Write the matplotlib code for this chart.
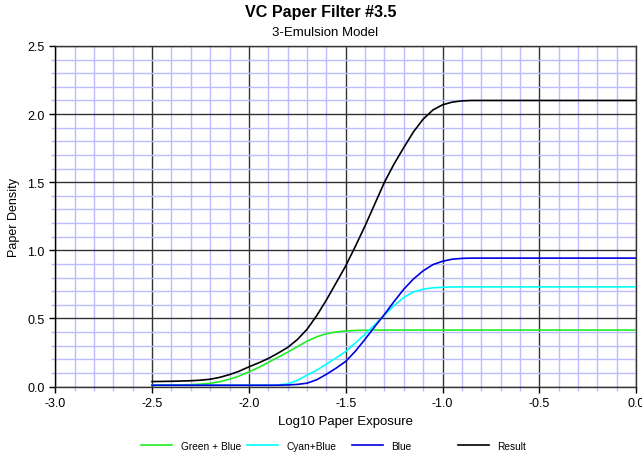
import matplotlib
matplotlib.use('Agg')
import matplotlib.pyplot as plt
from matplotlib.ticker import MultipleLocator
from matplotlib.lines import Line2D

plt.rcParams['font.family'] = ['Liberation Sans', 'DejaVu Sans']

# log10 exposure
logE = [-2.5, -2.45, -2.4, -2.35, -2.3, -2.25, -2.2, -2.15, -2.1, -2.05,
        -2.0, -1.95, -1.9, -1.85, -1.8, -1.75, -1.7, -1.65, -1.6, -1.55,
        -1.5, -1.45, -1.4, -1.35, -1.3, -1.25, -1.2, -1.15, -1.1, -1.05,
        -1.0, -0.95, -0.9, -0.85, -0.8, -0.7, -0.6, -0.5, -0.4, -0.3,
        -0.2, -0.1, 0.0]

green_blue = [0.010, 0.010, 0.011, 0.012, 0.014, 0.018, 0.024, 0.036, 0.054, 0.078,
              0.108, 0.140, 0.177, 0.215, 0.252, 0.293, 0.333, 0.365, 0.388, 0.401,
              0.408, 0.412, 0.414, 0.415, 0.415, 0.415, 0.415, 0.415, 0.415, 0.415,
              0.415, 0.415, 0.415, 0.415, 0.415, 0.415, 0.415, 0.415, 0.415, 0.415,
              0.415, 0.415, 0.415]

cyan_blue = [0.010, 0.010, 0.010, 0.010, 0.010, 0.010, 0.010, 0.010, 0.010, 0.010,
             0.010, 0.010, 0.010, 0.012, 0.020, 0.045, 0.084, 0.120, 0.165, 0.210,
             0.258, 0.320, 0.385, 0.455, 0.525, 0.595, 0.655, 0.695, 0.715, 0.725,
             0.729, 0.731, 0.732, 0.732, 0.732, 0.732, 0.732, 0.732, 0.732, 0.732,
             0.732, 0.732, 0.732]

blue = [0.010, 0.010, 0.010, 0.010, 0.010, 0.010, 0.010, 0.010, 0.010, 0.010,
        0.010, 0.010, 0.010, 0.010, 0.012, 0.016, 0.025, 0.050, 0.090, 0.135,
        0.185, 0.260, 0.348, 0.440, 0.530, 0.625, 0.715, 0.790, 0.850, 0.895,
        0.920, 0.935, 0.941, 0.943, 0.943, 0.943, 0.943, 0.943, 0.943, 0.943,
        0.943, 0.943, 0.943]

result = [0.037, 0.038, 0.039, 0.041, 0.043, 0.047, 0.054, 0.068, 0.088, 0.113,
          0.145, 0.174, 0.206, 0.245, 0.287, 0.345, 0.420, 0.520, 0.635, 0.760,
          0.886, 1.030, 1.180, 1.340, 1.500, 1.635, 1.755, 1.870, 1.963, 2.030,
          2.068, 2.088, 2.097, 2.100, 2.100, 2.100, 2.100, 2.100, 2.100, 2.100,
          2.100, 2.100, 2.100]

series = [('Green + Blue', green_blue, '#22ee22'),
          ('Cyan+Blue', cyan_blue, '#00ffff'),
          ('Blue', blue, '#0000dd'),
          ('Result', result, '#000000')]

fig = plt.figure(figsize=(6.42, 4.56), dpi=100)
ax = fig.add_axes([0.086, 0.150, 0.905, 0.747])

for name, vals, col in series:
    ax.plot(logE, vals, color=col, linewidth=1.2, zorder=3)

ax.set_xlim(-3.0, 0.0)
ax.set_ylim(0.0, 2.5)
ax.xaxis.set_major_locator(MultipleLocator(0.5))
ax.yaxis.set_major_locator(MultipleLocator(0.5))
ax.xaxis.set_minor_locator(MultipleLocator(0.1))
ax.yaxis.set_minor_locator(MultipleLocator(0.1))
ax.xaxis.set_major_formatter(plt.FormatStrFormatter('%.1f'))
ax.yaxis.set_major_formatter(plt.FormatStrFormatter('%.1f'))

ax.grid(True, which='minor', color='#bcbcff', linewidth=1.0, zorder=0)
ax.grid(True, which='major', color='#333333', linewidth=1.0, zorder=1)
ax.set_axisbelow(True)
ax.tick_params(which='major', direction='out', length=4, width=1, color='black', labelsize=9)
ax.tick_params(which='minor', direction='out', length=3, width=1, color='#bcbcff')
for s in ax.spines.values():
    s.set_color('#333333')
    s.set_linewidth(1.0)
ax.spines['left'].set_color('black')

ax.set_xlabel('Log10 Paper Exposure', fontsize=9.5, labelpad=4)
ax.set_ylabel('Paper Density', fontsize=9, labelpad=5)

fig.text(0.5, 0.972, 'VC Paper Filter #3.5', ha='center', va='center',
         fontsize=11.6, fontweight='bold')
fig.text(0.506, 0.928, '3-Emulsion Model', ha='center', va='center', fontsize=9.5)

# legend, one column per entry, evenly spaced
x0 = [0.2196, 0.3847, 0.5483, 0.7134]
for (name, vals, col), xs in zip(series, x0):
    h = Line2D([], [], color=col, linewidth=1.2)
    fig.legend([h], [name], loc='center left', bbox_to_anchor=(xs, 0.02),
               frameon=False, fontsize=7.3, handlelength=3.1, handletextpad=0.8,
               borderaxespad=0, borderpad=0)

fig.savefig('out.png', dpi=100)
